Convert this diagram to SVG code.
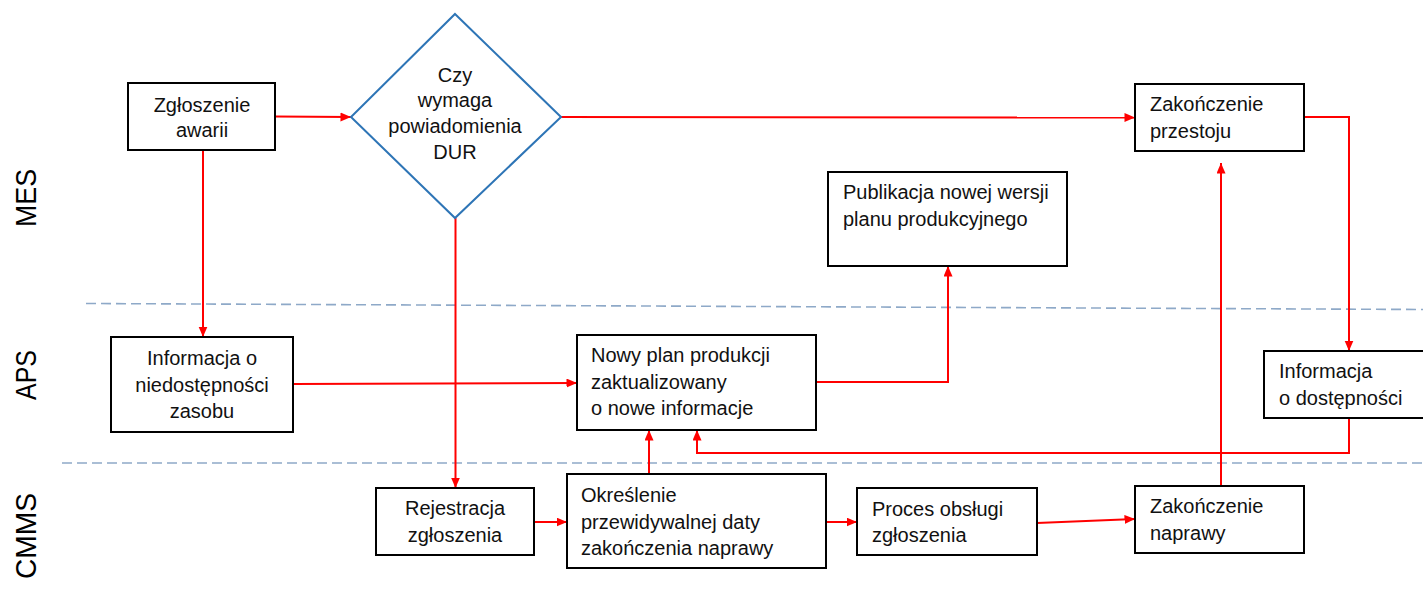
<svg xmlns="http://www.w3.org/2000/svg" width="1423" height="589" viewBox="0 0 1423 589">
<style>
.box{fill:#fff;stroke:#000;stroke-width:2}
.dia{fill:#fff;stroke:#2E75B6;stroke-width:2}
.t{font-family:"Liberation Sans",Arial,sans-serif;font-size:20px;fill:#111}
.c{text-anchor:middle}
.lane{font-family:"Liberation Sans",Arial,sans-serif;font-size:30px;fill:#000;text-anchor:middle}
.sep{stroke:#8EA9C8;stroke-width:1.6;stroke-dasharray:10 5;fill:none}
.con{fill:none;stroke:#FF0000;stroke-width:2}
</style>
<defs>
<marker id="ah" markerUnits="userSpaceOnUse" markerWidth="11" markerHeight="10" refX="10.5" refY="4.5" orient="auto">
<path d="M0,0 L10.5,4.5 L0,9 z" fill="#FF0000"/>
</marker>
</defs>
<rect width="1423" height="589" fill="#fff"/>
<g id="lanes">
<line class="sep" x1="86" y1="303.5" x2="1423" y2="309.5"/>
<line class="sep" x1="62" y1="463" x2="1423" y2="463"/>
<text class="lane" transform="translate(36,198) rotate(-90)" textLength="58" lengthAdjust="spacingAndGlyphs">MES</text>
<text class="lane" transform="translate(36,375) rotate(-90)" textLength="50" lengthAdjust="spacingAndGlyphs">APS</text>
<text class="lane" transform="translate(36,536) rotate(-90)" textLength="86" lengthAdjust="spacingAndGlyphs">CMMS</text>
</g>
<g id="connectors">
<path class="con" marker-end="url(#ah)" d="M275,116.5 L351,117"/>
<path class="con" marker-end="url(#ah)" d="M561,117 L1135,117.5"/>
<path class="con" marker-end="url(#ah)" d="M203,150 L203,337"/>
<path class="con" marker-end="url(#ah)" d="M293,384 L577,383"/>
<path class="con" marker-end="url(#ah)" d="M816,382 L948,382 L948,266"/>
<path class="con" marker-end="url(#ah)" d="M455.5,218 L455.5,488"/>
<path class="con" marker-end="url(#ah)" d="M534,522 L567,522"/>
<path class="con" marker-end="url(#ah)" d="M649,474 L649,430"/>
<path class="con" marker-end="url(#ah)" d="M826,522 L857,522"/>
<path class="con" marker-end="url(#ah)" d="M1037,523 L1135,519"/>
<path class="con" marker-end="url(#ah)" d="M1221,486 L1221,163"/>
<path class="con" marker-end="url(#ah)" d="M1304,117 L1349,117 L1349,351"/>
<path class="con" marker-end="url(#ah)" d="M1349,418 L1349,453 L697,453 L697,430"/>
</g>
<g id="n-zgloszenie">
<rect class="box" x="128" y="83" width="147" height="67"/>
<text class="t c" x="202" y="112">Zgłoszenie</text>
<text class="t c" x="202" y="137">awarii</text>
</g>
<g id="n-decyzja">
<polygon class="dia" points="455,14 561,117 455,218 351,117"/>
<text class="t c" x="455" y="82">Czy</text>
<text class="t c" x="455" y="107">wymaga</text>
<text class="t c" x="455" y="133">powiadomienia</text>
<text class="t c" x="455" y="159">DUR</text>
</g>
<g id="n-przestoj">
<rect class="box" x="1135" y="84" width="169" height="67"/>
<text class="t" x="1150" y="111">Zakończenie</text>
<text class="t" x="1150" y="138">przestoju</text>
</g>
<g id="n-publikacja">
<rect class="box" x="828" y="172" width="239" height="94"/>
<text class="t" x="843" y="199">Publikacja nowej wersji</text>
<text class="t" x="843" y="226">planu produkcyjnego</text>
</g>
<g id="n-niedostepnosc">
<rect class="box" x="111" y="337" width="182" height="95"/>
<text class="t c" x="202" y="365">Informacja o</text>
<text class="t c" x="202" y="392">niedostępności</text>
<text class="t c" x="202" y="418">zasobu</text>
</g>
<g id="n-nowyplan">
<rect class="box" x="577" y="335" width="239" height="95"/>
<text class="t" x="591" y="362">Nowy plan produkcji</text>
<text class="t" x="591" y="389">zaktualizowany</text>
<text class="t" x="591" y="415">o nowe informacje</text>
</g>
<g id="n-dostepnosc">
<rect class="box" x="1264" y="351" width="162" height="67"/>
<text class="t" x="1279" y="378">Informacja</text>
<text class="t" x="1279" y="405">o dostępności</text>
</g>
<g id="n-rejestracja">
<rect class="box" x="376" y="488" width="158" height="67"/>
<text class="t c" x="455" y="515">Rejestracja</text>
<text class="t c" x="455" y="542">zgłoszenia</text>
</g>
<g id="n-okreslenie">
<rect class="box" x="567" y="474" width="259" height="94"/>
<text class="t" x="581" y="502">Określenie</text>
<text class="t" x="581" y="529">przewidywalnej daty</text>
<text class="t" x="581" y="555">zakończenia naprawy</text>
</g>
<g id="n-proces">
<rect class="box" x="857" y="488" width="180" height="67"/>
<text class="t" x="872" y="516">Proces obsługi</text>
<text class="t" x="872" y="542">zgłoszenia</text>
</g>
<g id="n-naprawa">
<rect class="box" x="1135" y="486" width="169" height="67"/>
<text class="t" x="1150" y="513">Zakończenie</text>
<text class="t" x="1150" y="540">naprawy</text>
</g>
</svg>
